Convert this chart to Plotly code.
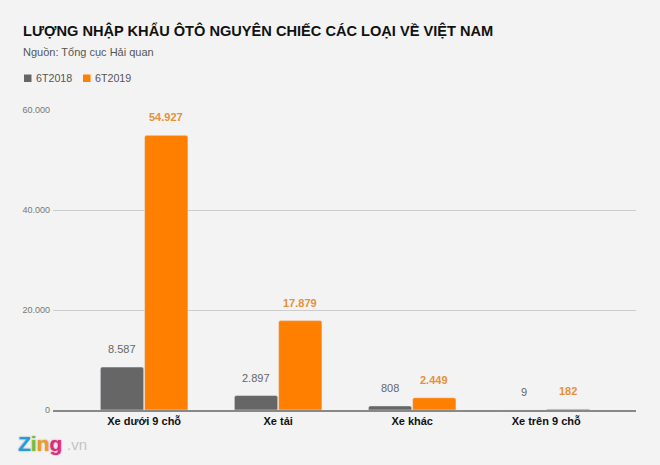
import plotly.graph_objects as go

categories = ['Xe dưới 9 chỗ', 'Xe tải', 'Xe khác', 'Xe trên 9 chỗ']
values_2018 = [8587, 2897, 808, 9]
values_2019 = [54927, 17879, 2449, 182]
labels_2018 = ['8.587', '2.897', '808', '9']
labels_2019 = ['54.927', '17.879', '2.449', '182']
tick_vals = [0, 20000, 40000, 60000]
tick_text = ['0', '20.000', '40.000', '60.000']

FONT = 'Liberation Sans, Arial, sans-serif'
GREY = '#666666'
ORANGE = '#ff7f00'
BG = '#f3f3f3'
W, H = 660, 465
L, R, T, B = 53, 24, 110, 55


# overlay texts are placed in page pixels, paper coords are relative to the plot area
def px(x):
    return (x - L) / (W - L - R)


def py(y):
    return (H - B - y) / (H - T - B)


fig = go.Figure()
fig.add_trace(go.Bar(name='6T2018', x=categories, y=values_2018, marker_color=GREY))
fig.add_trace(go.Bar(name='6T2019', x=categories, y=values_2019, marker_color=ORANGE))

fig.update_layout(
    width=W, height=H,
    margin=dict(l=L, r=R, t=T, b=B),
    paper_bgcolor=BG, plot_bgcolor=BG,
    font=dict(family=FONT),
    barmode='group', bargap=0.34, bargroupgap=0.02, barcornerradius=2,
    showlegend=False,
)
fig.update_xaxes(range=[-0.68, 3.67], showgrid=False, ticks='', showline=True,
                 linecolor='#888888', linewidth=1.5,
                 tickfont=dict(size=11, color='#111111', weight='bold'))
fig.update_yaxes(range=[0, 60000], tickvals=tick_vals, ticktext=tick_text,
                 gridcolor='#cccccc', zeroline=False, ticklabelstandoff=2,
                 tickfont=dict(size=9, color='#777777'))

# value labels sit well above the bars
for cat, v18, t18, v19, t19 in zip(categories, values_2018, labels_2018, values_2019, labels_2019):
    fig.add_annotation(x=cat, y=v18, text=t18, showarrow=False, xshift=-22, yshift=18,
                       font=dict(size=11, color='#666666'))
    fig.add_annotation(x=cat, y=v19, text=t19, showarrow=False, xshift=22, yshift=18,
                       font=dict(size=11, color='#e69138', weight='bold'))


def page_text(x, y, text, size, color, **font):
    fig.add_annotation(text=text, xref='paper', yref='paper', x=px(x), y=py(y),
                       xanchor='left', yanchor='middle', showarrow=False,
                       font=dict(size=size, color=color, **font))


page_text(21, 31, '<b>LƯỢNG NHẬP KHẨU ÔTÔ NGUYÊN CHIẾC CÁC LOẠI VỀ VIỆT NAM</b>', 14.6, '#111111')
page_text(21, 52, 'Nguồn: Tổng cục Hải quan', 11, '#555555')

# legend drawn by hand, plotly's swatch box is too wide for this spacing
page_text(34, 78, '6T2018', 10.7, '#555555')
page_text(93, 78, '6T2019', 10.7, '#555555')
for x0, color in [(24, GREY), (83, ORANGE)]:
    fig.add_shape(type='rect', xref='paper', yref='paper', x0=px(x0), x1=px(x0 + 7.5),
                  y0=py(82), y1=py(74.5), fillcolor=color, line_width=0)

logo = ('<b><span style="color:#1e9fe0">Z</span><span style="color:#6fbf3a">i</span>'
        '<span style="color:#f39a1e">n</span><span style="color:#e8257f">g</span></b>')
page_text(16, 443, logo, 21, '#333333', shadow='0px 0px 2px #999999')
page_text(65, 444, '.vn', 15, '#c4c4c4')

fig.write_html('out.html', config={'displayModeBar': False},
               post_script="document.body.style.margin='0';document.body.style.background='%s';" % BG)
